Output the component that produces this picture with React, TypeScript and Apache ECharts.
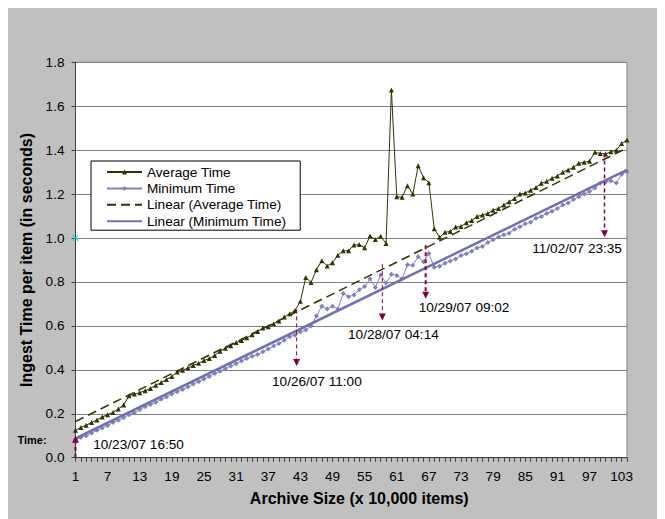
import React, { useEffect, useRef } from 'react';
import * as echarts from 'echarts';

// ---- data ----
const categories: string[] = Array.from({ length: 104 }, (_, i) => String(i + 1));

const avgTime: number[] = [
  0.125, 0.138, 0.148, 0.160, 0.172, 0.185, 0.196, 0.206, 0.222, 0.240,
  0.282, 0.290, 0.296, 0.305, 0.315, 0.330, 0.342, 0.356, 0.370, 0.390,
  0.398, 0.408, 0.420, 0.430, 0.442, 0.452, 0.465, 0.485, 0.498, 0.510,
  0.524, 0.533, 0.546, 0.560, 0.575, 0.590, 0.596, 0.610, 0.622, 0.640,
  0.655, 0.670, 0.712, 0.820, 0.798, 0.856, 0.897, 0.873, 0.888, 0.922,
  0.942, 0.942, 0.968, 0.970, 0.956, 1.009, 0.993, 1.008, 0.975, 1.674,
  1.188, 1.186, 1.238, 1.200, 1.329, 1.274, 1.252, 1.042, 1.003, 1.026,
  1.030, 1.050, 1.052, 1.070, 1.080, 1.098, 1.105, 1.112, 1.127, 1.135,
  1.150, 1.165, 1.180, 1.200, 1.205, 1.218, 1.230, 1.249, 1.258, 1.272,
  1.282, 1.300, 1.310, 1.322, 1.340, 1.345, 1.350, 1.390, 1.385, 1.383,
  1.393, 1.400, 1.430, 1.446,
];

const minTime: number[] = [
  0.082, 0.092, 0.100, 0.112, 0.125, 0.135, 0.146, 0.160, 0.170, 0.182,
  0.195, 0.205, 0.218, 0.232, 0.242, 0.252, 0.266, 0.276, 0.290, 0.300,
  0.311, 0.322, 0.335, 0.346, 0.358, 0.370, 0.383, 0.393, 0.405, 0.417,
  0.428, 0.440, 0.452, 0.462, 0.470, 0.482, 0.495, 0.508, 0.520, 0.535,
  0.551, 0.558, 0.573, 0.581, 0.600, 0.645, 0.690, 0.677, 0.690, 0.677,
  0.748, 0.733, 0.741, 0.764, 0.779, 0.815, 0.775, 0.832, 0.795, 0.835,
  0.830, 0.815, 0.878, 0.876, 0.915, 0.892, 0.930, 0.867, 0.872, 0.885,
  0.895, 0.905, 0.920, 0.928, 0.940, 0.955, 0.962, 0.980, 0.992, 1.005,
  1.015, 1.022, 1.040, 1.051, 1.065, 1.072, 1.090, 1.098, 1.112, 1.122,
  1.135, 1.150, 1.160, 1.175, 1.188, 1.200, 1.212, 1.228, 1.249, 1.256,
  1.260, 1.250, 1.290, 1.302,
];

// Trendline end values (first and last category)
const avgTrendEnds: number[] = [0.165, 1.41];
const minTrendEnds: number[] = [0.088, 1.31];

const yTicks = { min: 0, max: 1.8, interval: 0.2 };

// Annotations: category position, start value, arrow-tip value, label anchor
const annotLabels: string[] = ['10/23/07 16:50', '10/26/07 11:00', '10/28/07 04:14', '10/29/07 09:02', '11/02/07 23:35'];
const annotCat: number[] = [1, 42.3, 58.3, 66.4, 99.8];
const annotFrom: number[] = [0, 0.675, 0.881, 0.967, 1.385];
const annotTo: number[] = [0.10, 0.417, 0.625, 0.724, 1.003];
const annotLabelCat: number[] = [4.3, 37.7, 51.9, 65.1, 86.3];
const annotLabelVal: number[] = [0.061, 0.346, 0.56, 0.683, 0.951];

const FONT = 'Liberation Sans, Arial, Helvetica, sans-serif';
const AVG_COLOR = '#333300';
const MIN_COLOR = '#8080C0';
const MIN_TREND_COLOR = '#7070B0';
const ANNOT_COLOR = '#800040';
const annotWidths = [2, 1, 1, 2, 1.5];

export default function App() {
  const ref = useRef<HTMLDivElement>(null);

  useEffect(() => {
    const chart = echarts.init(ref.current as HTMLDivElement, null, { renderer: 'svg' });
    const last = categories[categories.length - 1];
    chart.setOption({
      animation: false,
      backgroundColor: '#C0C0C0',
      textStyle: { fontFamily: FONT },
      grid: {
        left: 67.5,
        top: 54.3,
        right: 38,
        bottom: 61.3,
        show: true,
        backgroundColor: '#FFFFFF',
        borderColor: '#808080',
        borderWidth: 1,
        containLabel: false,
      },
      legend: {
        orient: 'vertical',
        left: 83,
        top: 153,
        backgroundColor: '#FFFFFF',
        borderColor: '#000000',
        borderWidth: 1,
        borderRadius: 0,
        padding: [4, 14, 2, 15],
        itemWidth: 35,
        itemHeight: 6,
        itemGap: 2.4,
        textStyle: { fontSize: 13.6, color: '#000', fontFamily: FONT },
        data: [
          { name: 'Average Time' },
          { name: 'Minimum Time' },
          { name: 'Linear (Average Time)', itemStyle: { opacity: 0 } },
          { name: 'Linear (Minimum Time)', itemStyle: { opacity: 0 } },
        ],
      },
      xAxis: {
        type: 'category',
        data: categories,
        boundaryGap: false,
        name: 'Archive Size (x 10,000 items)',
        nameLocation: 'middle',
        nameGap: 33,
        nameTextStyle: { fontSize: 16, fontWeight: 'bold', color: '#000', fontFamily: FONT, padding: [0, 0, 0, 16] },
        axisLine: { lineStyle: { color: '#404040', width: 1 } },
        axisTick: { show: true, interval: 0, length: 4, lineStyle: { color: '#404040' } },
        axisLabel: { interval: 5, margin: 12, fontSize: 13.6, color: '#000', fontFamily: FONT },
        splitLine: { show: false },
      },
      yAxis: {
        type: 'value',
        min: yTicks.min,
        max: yTicks.max,
        interval: yTicks.interval,
        name: 'Ingest Time per item (in seconds)',
        nameLocation: 'middle',
        nameGap: 37,
        nameTextStyle: { fontSize: 16, fontWeight: 'bold', color: '#000', fontFamily: FONT },
        axisLine: { show: true, lineStyle: { color: '#404040', width: 1 } },
        axisTick: { show: true, length: 4, lineStyle: { color: '#404040' } },
        axisLabel: {
          margin: 11,
          fontSize: 13.6,
          color: '#000',
          fontFamily: FONT,
          formatter: (v: number) => v.toFixed(1),
        },
        splitLine: { show: true, lineStyle: { color: '#808080', width: 1 } },
      },
      series: [
        {
          name: 'Average Time',
          type: 'line',
          data: avgTime,
          symbol: 'triangle',
          symbolSize: 5,
          showAllSymbol: true,
          lineStyle: { color: AVG_COLOR, width: 1 },
          itemStyle: { color: AVG_COLOR },
          z: 3,
        },
        {
          name: 'Minimum Time',
          type: 'line',
          data: minTime,
          symbol: 'diamond',
          symbolSize: 5,
          showAllSymbol: true,
          lineStyle: { color: MIN_COLOR, width: 1 },
          itemStyle: { color: MIN_COLOR },
          z: 3,
        },
        {
          name: 'Linear (Average Time)',
          type: 'line',
          data: [[categories[0], avgTrendEnds[0]], [last, avgTrendEnds[1]]],
          symbol: 'none',
          lineStyle: { color: AVG_COLOR, width: 1.5, type: [9, 5] },
          itemStyle: { color: AVG_COLOR, opacity: 0 },
          z: 4,
        },
        {
          name: 'Linear (Minimum Time)',
          type: 'line',
          data: [[categories[0], minTrendEnds[0]], [last, minTrendEnds[1]]],
          symbol: 'none',
          lineStyle: { color: MIN_TREND_COLOR, width: 2.5 },
          itemStyle: { color: MIN_TREND_COLOR, opacity: 0 },
          z: 4,
        },
        {
          name: 'marker',
          type: 'scatter',
          data: [[categories[0], 1.0]],
          symbol: 'path://M0,0L10,10M10,0L0,10',
          symbolSize: 6,
          itemStyle: { color: 'none', borderColor: '#00E0E0', borderWidth: 1.2 },
          z: 6,
          silent: true,
        },
      ],
    });

    const toPx = (cat: number, val: number): number[] => {
      const i0 = Math.floor(cat);
      const f = cat - i0;
      const a = chart.convertToPixel({ gridIndex: 0 }, [i0 - 1, val]) as number[];
      const b = chart.convertToPixel({ gridIndex: 0 }, [i0, val]) as number[];
      return [a[0] + (b[0] - a[0]) * f, a[1]];
    };

    const graphics: any[] = [];
    annotLabels.forEach((label, k) => {
      const p0 = toPx(annotCat[k], annotFrom[k]);
      const p1 = toPx(annotCat[k], annotTo[k]);
      const dir = p1[1] > p0[1] ? 1 : -1; // 1 = arrow points down
      const head = 7;
      const w = annotWidths[k];
      graphics.push({
        type: 'line',
        shape: { x1: p0[0], y1: p0[1], x2: p1[0], y2: p1[1] - dir * head },
        style: { stroke: ANNOT_COLOR, lineWidth: w, lineDash: [4, 3] },
        z: 100,
      });
      graphics.push({
        type: 'polygon',
        shape: {
          points: [
            [p1[0], p1[1]],
            [p1[0] - 3.5, p1[1] - dir * head],
            [p1[0] + 3.5, p1[1] - dir * head],
          ],
        },
        style: { fill: ANNOT_COLOR },
        z: 100,
      });
      const lp = toPx(annotLabelCat[k], annotLabelVal[k]);
      graphics.push({
        type: 'text',
        x: lp[0],
        y: lp[1],
        style: {
          text: label,
          fontSize: 13.6,
          fontFamily: FONT,
          fill: '#000',
          align: 'left',
          verticalAlign: 'middle',
        },
        z: 100,
      });
    });
    const tp = toPx(1, 0.08);
    graphics.push({
      type: 'text',
      x: tp[0] - 58,
      y: tp[1],
      style: {
        text: 'Time:',
        fontSize: 11,
        fontWeight: 'bold',
        fontFamily: FONT,
        fill: '#000',
        align: 'left',
        verticalAlign: 'middle',
      },
      z: 100,
    });
    chart.setOption({ graphic: graphics });

    return () => chart.dispose();
  }, []);

  return <div ref={ref} style={{ width: 657, height: 511 }} />;
}
